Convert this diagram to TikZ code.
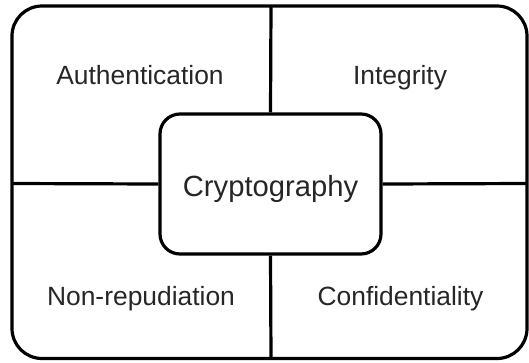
\documentclass[tikz,border=0pt]{standalone}
\usepackage{fontspec}
\setmainfont{Liberation Sans}
\begin{document}
\begin{tikzpicture}[x=1pt,y=-1pt,
  frame/.style={line width=3.2pt, draw=black},
  lbl/.style={text=black!85, font=\fontsize{26.4}{31}\selectfont, inner sep=0pt},
  core/.style={frame, fill=white, rounded corners=20pt, minimum width=221pt, minimum height=140pt, inner sep=0pt}]
\useasboundingbox (0,0) rectangle (529,362);
\draw[frame, rounded corners=30pt] (12,6) rectangle (527,358.5);
\coordinate (top) at (271,6);
\coordinate (bot) at (271,358.5);
\coordinate (lft) at (12,183.5);
\coordinate (rgt) at (527,183.5);
\node[core] (c) at (270.5,184) {};
\draw[frame] (top) -- (c.north);
\draw[frame] (c.south) -- (bot);
\draw[frame] (lft) -- (c.west);
\draw[frame] (c.east) -- (rgt);
\node[text=black!85, font=\fontsize{29.2}{34}\selectfont, inner sep=0pt, anchor=base] (ct) at (270.5,196.8) {Cryptography};
\node[lbl, anchor=base] (a) at (140,84.5) {Authentication};
\node[lbl, anchor=base] (i) at (400,84.5) {Integrity};
\node[lbl, anchor=base] (n) at (141,305) {Non-repudiation};
\node[lbl, anchor=base] (f) at (400.5,305) {Confidentiality};
\end{tikzpicture}
\end{document}
